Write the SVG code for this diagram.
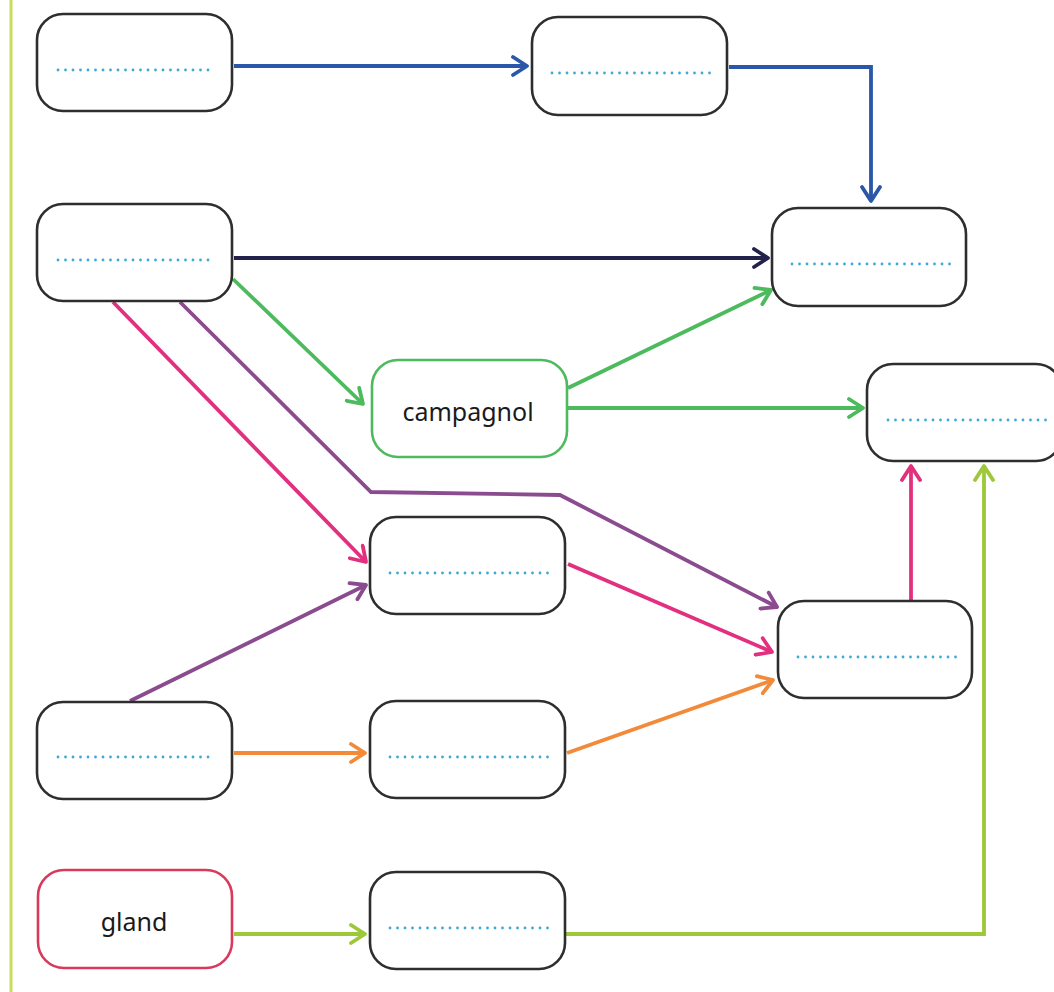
<svg xmlns="http://www.w3.org/2000/svg" width="1054" height="992" viewBox="0 0 1054 992">
<defs>
<style>
.node{fill:#fff;stroke:#2e2e2e;stroke-width:2.6}
.dots{stroke:#3fa9d6;stroke-width:2.8;stroke-linecap:round;stroke-dasharray:0 7.5;fill:none}
.lbl{font-family:"Noto Sans","Open Sans",sans-serif;font-size:25px;fill:#1a1a1a;text-anchor:middle}
.c{fill:none;stroke-width:3.8;stroke-linejoin:miter}
</style>
<marker id="mBlue" viewBox="0 0 22 22" refX="19" refY="11" markerWidth="22" markerHeight="22" markerUnits="userSpaceOnUse" orient="auto"><path d="M5,2 L19,11 L5,20" fill="none" stroke="#2b57a8" stroke-width="3.8" stroke-linecap="round" stroke-linejoin="round"/></marker>
<marker id="mNavy" viewBox="0 0 22 22" refX="19" refY="11" markerWidth="22" markerHeight="22" markerUnits="userSpaceOnUse" orient="auto"><path d="M5,2 L19,11 L5,20" fill="none" stroke="#22224a" stroke-width="3.8" stroke-linecap="round" stroke-linejoin="round"/></marker>
<marker id="mGreen" viewBox="0 0 22 22" refX="19" refY="11" markerWidth="22" markerHeight="22" markerUnits="userSpaceOnUse" orient="auto"><path d="M5,2 L19,11 L5,20" fill="none" stroke="#4dba5e" stroke-width="3.8" stroke-linecap="round" stroke-linejoin="round"/></marker>
<marker id="mPink" viewBox="0 0 22 22" refX="19" refY="11" markerWidth="22" markerHeight="22" markerUnits="userSpaceOnUse" orient="auto"><path d="M5,2 L19,11 L5,20" fill="none" stroke="#e2307f" stroke-width="3.8" stroke-linecap="round" stroke-linejoin="round"/></marker>
<marker id="mPurple" viewBox="0 0 22 22" refX="19" refY="11" markerWidth="22" markerHeight="22" markerUnits="userSpaceOnUse" orient="auto"><path d="M5,2 L19,11 L5,20" fill="none" stroke="#8b4b8f" stroke-width="3.8" stroke-linecap="round" stroke-linejoin="round"/></marker>
<marker id="mOrange" viewBox="0 0 22 22" refX="19" refY="11" markerWidth="22" markerHeight="22" markerUnits="userSpaceOnUse" orient="auto"><path d="M5,2 L19,11 L5,20" fill="none" stroke="#f28a3a" stroke-width="3.8" stroke-linecap="round" stroke-linejoin="round"/></marker>
<marker id="mLime" viewBox="0 0 22 22" refX="19" refY="11" markerWidth="22" markerHeight="22" markerUnits="userSpaceOnUse" orient="auto"><path d="M5,2 L19,11 L5,20" fill="none" stroke="#9cc83a" stroke-width="3.8" stroke-linecap="round" stroke-linejoin="round"/></marker>
</defs>
<rect width="1054" height="992" fill="#fff"/>
<line x1="11" y1="0" x2="11" y2="992" stroke="#c9dc62" stroke-width="3"/>

<g id="connectors">
<path class="c" stroke="#2b57a8" d="M234,66 H527" marker-end="url(#mBlue)"/>
<path class="c" stroke="#2b57a8" d="M729,67 H871 V201" marker-end="url(#mBlue)"/>
<path class="c" stroke="#22224a" d="M234,258 H768" marker-end="url(#mNavy)"/>
<path class="c" stroke="#4dba5e" d="M233,279 L363,404" marker-end="url(#mGreen)"/>
<path class="c" stroke="#4dba5e" d="M568,388 L771,290" marker-end="url(#mGreen)"/>
<path class="c" stroke="#4dba5e" d="M568,408 H863" marker-end="url(#mGreen)"/>
<path class="c" stroke="#e2307f" d="M113,302 L366,562" marker-end="url(#mPink)"/>
<path class="c" stroke="#8b4b8f" d="M180,302 L371,492 L560,495 L777,607" marker-end="url(#mPurple)"/>
<path class="c" stroke="#e2307f" d="M568,564 L772,652" marker-end="url(#mPink)"/>
<path class="c" stroke="#8b4b8f" d="M130,701 L366,585" marker-end="url(#mPurple)"/>
<path class="c" stroke="#f28a3a" d="M234,753 H365" marker-end="url(#mOrange)"/>
<path class="c" stroke="#f28a3a" d="M567,753 L773,680" marker-end="url(#mOrange)"/>
<path class="c" stroke="#e2307f" d="M911,600 V466" marker-end="url(#mPink)"/>
<path class="c" stroke="#9cc83a" d="M234,934 H365" marker-end="url(#mLime)"/>
<path class="c" stroke="#9cc83a" d="M565,934 H984 V466" marker-end="url(#mLime)"/>
</g>

<g id="n1"><rect class="node" x="37" y="14" width="195" height="97" rx="26"/><line class="dots" x1="58" y1="70" x2="215" y2="70"/></g>
<g id="n2"><rect class="node" x="532" y="17" width="195" height="98" rx="26"/><line class="dots" x1="552" y1="73" x2="710" y2="73"/></g>
<g id="n3"><rect class="node" x="37" y="204" width="195" height="97" rx="26"/><line class="dots" x1="58" y1="260" x2="215" y2="260"/></g>
<g id="n4"><rect class="node" x="772" y="208" width="194" height="98" rx="26"/><line class="dots" x1="792" y1="264" x2="950" y2="264"/></g>
<g id="campagnol"><rect class="node" style="stroke:#4dba5e" x="372" y="360" width="195" height="97" rx="26"/><text class="lbl" x="468" y="421">campagnol</text></g>
<g id="n6"><rect class="node" x="867" y="364" width="195" height="97" rx="26"/><line class="dots" x1="888" y1="420" x2="1046" y2="420"/></g>
<g id="n7"><rect class="node" x="370" y="517" width="195" height="97" rx="26"/><line class="dots" x1="390" y1="573" x2="548" y2="573"/></g>
<g id="n8"><rect class="node" x="778" y="601" width="194" height="97" rx="26"/><line class="dots" x1="798" y1="657" x2="956" y2="657"/></g>
<g id="n9"><rect class="node" x="37" y="702" width="195" height="97" rx="26"/><line class="dots" x1="58" y1="757" x2="215" y2="757"/></g>
<g id="n10"><rect class="node" x="370" y="701" width="195" height="97" rx="26"/><line class="dots" x1="390" y1="757" x2="548" y2="757"/></g>
<g id="gland"><rect class="node" style="stroke:#d93a5c" x="38" y="870" width="194" height="98" rx="26"/><text class="lbl" x="134" y="931">gland</text></g>
<g id="n12"><rect class="node" x="370" y="872" width="195" height="97" rx="26"/><line class="dots" x1="390" y1="928" x2="548" y2="928"/></g>
</svg>
